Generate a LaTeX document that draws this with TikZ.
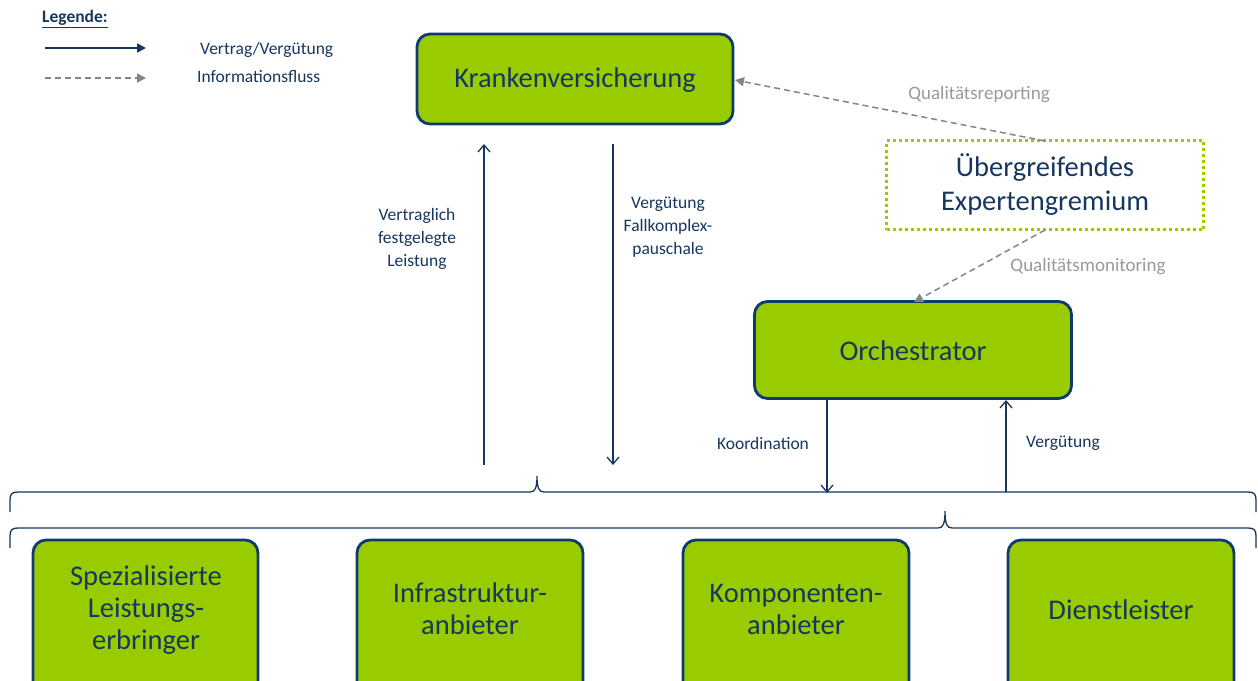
\documentclass[tikz,border=0pt]{standalone}
\usepackage{fontspec}
\setmainfont{Carlito}
\usetikzlibrary{arrows.meta}
\definecolor{navy}{HTML}{17375E}
\definecolor{boxline}{HTML}{0F3A6E}
\definecolor{lgreen}{HTML}{99CC00}
\definecolor{infogray}{HTML}{858585}
\definecolor{lblgray}{HTML}{9A9A9A}
\begin{document}
\begin{tikzpicture}[x=1pt,y=-1pt,
  box/.style={draw=boxline, line width=2.8pt, fill=lgreen, rounded corners=13pt, inner sep=0pt},
  boxtext/.style={text=navy, font=\fontsize{28.5}{32}\selectfont, align=center, inner sep=0pt},
  flow/.style={draw=navy, line width=1.3pt, -{Straight Barb[length=7pt,width=12pt,line width=1.3pt]}},
  legflow/.style={draw=navy, line width=1.8pt, -{Triangle[length=9pt,width=9pt]}},
  info/.style={draw=infogray, line width=1.5pt, dash pattern=on 6pt off 4pt, -{Triangle[length=9pt,width=9pt]}},
  lab/.style={text=navy, font=\fontsize{17.5}{23}\selectfont, align=center, inner sep=0pt},
  glab/.style={text=lblgray, font=\fontsize{19}{22}\selectfont, inner sep=0pt},
  brace/.style={draw=navy, line width=1.3pt}
]
\clip (0,0) rectangle (1258,680);
\fill[white] (0,0) rectangle (1258,680);

% legend
\node[lab, anchor=west, font=\fontsize{17.5}{20}\selectfont\bfseries] (leg) at (42,19) {\underline{Legende:}};
\coordinate (l1a) at (45,48); \coordinate (l1b) at (146,48);
\coordinate (l2a) at (45,78); \coordinate (l2b) at (146,78);
\draw[legflow] (l1a) -- (l1b);
\draw[info] (l2a) -- (l2b);
\node[lab, anchor=west] (legv) at (200,50) {Vertrag/Vergütung};
\node[lab, anchor=west] (legi) at (197,77) {Informationsfluss};

% main boxes
\node[box, minimum width=316pt, minimum height=90pt] (kv) at (575,79) {};
\node[boxtext] (kvt) at (575,80) {Krankenversicherung};
\node[draw=lgreen, line width=3pt, dash pattern=on 3pt off 3pt, fill=white, minimum width=317pt, minimum height=89pt, inner sep=0pt] (eg) at (1045,185) {};
\node[boxtext, font=\fontsize{28.5}{34}\selectfont] (egt) at (1045,185) {Übergreifendes\\Expertengremium};
\node[box, minimum width=317pt, minimum height=97pt] (or) at (913,350) {};
\node[boxtext] (ort) at (913,351) {Orchestrator};

% info arrows
\coordinate (egtop) at (1045,141);
\coordinate (egbot) at (1045,230);
\coordinate (kvin) at (735,80);
\coordinate (orin) at (914,302);
\draw[info] (egtop) -- (kvin);
\draw[info] (egbot) -- (orin);
\node[glab] (qr) at (979,95) {Qualitätsreporting};
\node[glab] (qm) at (1088,267) {Qualitätsmonitoring};

% vertical flows
\coordinate (a1s) at (484,465); \coordinate (a1e) at (484,144);
\coordinate (a2s) at (613,144); \coordinate (a2e) at (613,465);
\coordinate (a3s) at (827,399); \coordinate (a3e) at (827,493);
\coordinate (a4s) at (1006,492); \coordinate (a4e) at (1006,400);
\draw[flow] (a1s) -- (a1e);
\draw[flow] (a2s) -- (a2e);
\draw[flow] (a3s) -- (a3e);
\draw[flow] (a4s) -- (a4e);
\node[lab] (l1) at (417,239) {Vertraglich\\festgelegte\\Leistung};
\node[lab] (l2) at (668,227) {Vergütung\\Fallkomplex-\\pauschale};
\node[lab] (l3) at (763,443) {Koordination};
\node[lab] (l4) at (1063,443) {Vergütung};

% braces
\draw[brace] (10,512) -- (10,500) .. controls (10,494) and (12,492) .. (18,492)
  -- (530,492) .. controls (535,492) and (537,488) .. (537,476)
  .. controls (537,488) and (539,492) .. (544,492)
  -- (1248,492) .. controls (1254,492) and (1256,494) .. (1256,500) -- (1256,512);
\draw[brace] (10,548) -- (10,536) .. controls (10,530) and (12,528) .. (18,528)
  -- (938,528) .. controls (943,528) and (945,524) .. (945,511)
  .. controls (945,524) and (947,528) .. (952,528)
  -- (1248,528) .. controls (1254,528) and (1256,530) .. (1256,536) -- (1256,548);

% bottom boxes
\node[box, minimum width=225pt, minimum height=170pt] (b1) at (145.5,625) {};
\node[box, minimum width=226pt, minimum height=170pt] (b2) at (470,625) {};
\node[box, minimum width=226pt, minimum height=170pt] (b3) at (796,625) {};
\node[box, minimum width=226pt, minimum height=170pt] (b4) at (1121,625) {};
\node[boxtext] (b1t) at (146,610) {Spezialisierte\\Leistungs-\\erbringer};
\node[boxtext] (b2t) at (470,609) {Infrastruktur-\\anbieter};
\node[boxtext] (b3t) at (796,609) {Komponenten-\\anbieter};
\node[boxtext] (b4t) at (1121,610) {Dienstleister};
\end{tikzpicture}
\end{document}
